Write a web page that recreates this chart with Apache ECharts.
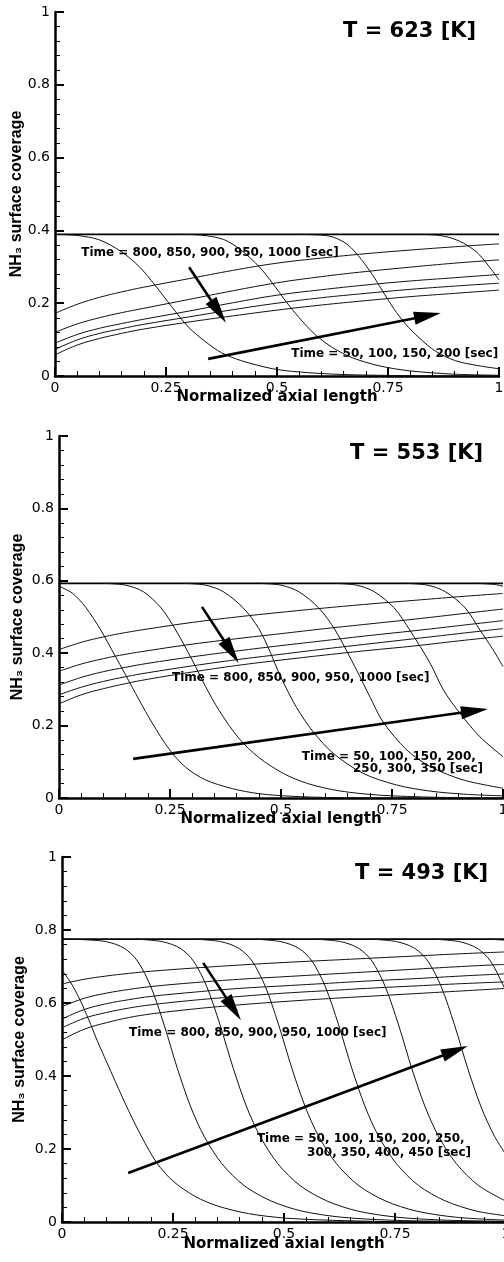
<!DOCTYPE html>
<html>
<head>
<meta charset="utf-8">
<script src="https://cdn.jsdelivr.net/npm/echarts/dist/echarts.min.js"></script>
<style>
  html, body { margin: 0; padding: 0; background: #fff; }
  #main { width: 504px; height: 1262px; }
</style>
</head>
<body>
<div id="main"></div>
<script type="text/javascript">
  // ---- data ----
  var xTicks = [0, 0.25, 0.5, 0.75, 1];
  var xDes = [0, 0.05, 0.1, 0.15, 0.2, 0.3, 0.4, 0.5, 0.6, 0.7, 0.8, 0.9, 1];
  var xSat = [0, 1];

  // T = 623 K
  var sat623 = [0.389, 0.389];
  var d623_800 = [0.172, 0.197, 0.216, 0.231, 0.244, 0.267, 0.29, 0.31, 0.324, 0.336, 0.346, 0.355, 0.363];
  var d623_850 = [0.12, 0.143, 0.16, 0.174, 0.186, 0.21, 0.234, 0.256, 0.273, 0.287, 0.299, 0.31, 0.319];
  var d623_900 = [0.09, 0.114, 0.131, 0.144, 0.156, 0.178, 0.201, 0.222, 0.237, 0.25, 0.261, 0.27, 0.279];
  var d623_950 = [0.073, 0.099, 0.117, 0.13, 0.142, 0.162, 0.182, 0.2, 0.215, 0.227, 0.238, 0.247, 0.255];
  var d623_1000 = [0.058, 0.085, 0.103, 0.117, 0.129, 0.148, 0.165, 0.181, 0.195, 0.207, 0.218, 0.227, 0.236];
  var a623_50 = [[0, 0.389], [0.05, 0.386], [0.1, 0.374], [0.15, 0.341], [0.19, 0.3], [0.225, 0.25], [0.263, 0.19], [0.3, 0.135], [0.338, 0.095], [0.375, 0.064], [0.42, 0.042], [0.49, 0.02], [0.55, 0.011], [0.65, 0.004], [0.8, 0.001], [1, 0]];
  var a623_100 = [[0.28, 0.389], [0.33, 0.387], [0.38, 0.375], [0.42, 0.345], [0.46, 0.3], [0.49, 0.255], [0.52, 0.205], [0.55, 0.16], [0.585, 0.115], [0.625, 0.078], [0.67, 0.05], [0.73, 0.028], [0.8, 0.014], [0.9, 0.005], [1, 0.002]];
  var a623_150 = [[0.55, 0.389], [0.6, 0.387], [0.628, 0.381], [0.66, 0.36], [0.69, 0.32], [0.715, 0.278], [0.737, 0.235], [0.763, 0.185], [0.79, 0.142], [0.82, 0.105], [0.857, 0.068], [0.902, 0.042], [0.955, 0.028], [1, 0.02]];
  var a623_200 = [[0.82, 0.389], [0.86, 0.387], [0.89, 0.38], [0.92, 0.365], [0.95, 0.34], [0.975, 0.305], [1, 0.264]];

  // T = 553 K
  var sat553 = [0.593, 0.593];
  var d553_800 = [0.41, 0.43, 0.445, 0.457, 0.467, 0.485, 0.5, 0.513, 0.525, 0.536, 0.546, 0.556, 0.565];
  var d553_850 = [0.35, 0.37, 0.385, 0.397, 0.407, 0.425, 0.44, 0.454, 0.468, 0.481, 0.494, 0.508, 0.522];
  var d553_900 = [0.312, 0.333, 0.349, 0.361, 0.372, 0.39, 0.406, 0.421, 0.435, 0.449, 0.462, 0.476, 0.49];
  var d553_950 = [0.285, 0.306, 0.322, 0.335, 0.346, 0.365, 0.382, 0.397, 0.412, 0.426, 0.44, 0.454, 0.468];
  var d553_1000 = [0.26, 0.285, 0.302, 0.316, 0.328, 0.348, 0.366, 0.381, 0.395, 0.408, 0.42, 0.434, 0.447];
  var a553_50 = [[0, 0.585], [0.03, 0.566], [0.06, 0.527], [0.094, 0.464], [0.124, 0.398], [0.15, 0.34], [0.18, 0.272], [0.21, 0.207], [0.248, 0.135], [0.285, 0.085], [0.33, 0.05], [0.39, 0.026], [0.45, 0.012], [0.52, 0.005], [0.62, 0.001], [0.8, 0]];
  var a553_100 = [[0.1, 0.593], [0.15, 0.588], [0.19, 0.57], [0.23, 0.525], [0.263, 0.464], [0.3, 0.381], [0.33, 0.308], [0.36, 0.243], [0.405, 0.165], [0.45, 0.112], [0.505, 0.068], [0.56, 0.04], [0.63, 0.02], [0.72, 0.008], [0.85, 0.002], [1, 0]];
  var a553_150 = [[0.28, 0.593], [0.33, 0.588], [0.37, 0.57], [0.415, 0.525], [0.45, 0.468], [0.475, 0.405], [0.498, 0.338], [0.535, 0.25], [0.573, 0.182], [0.618, 0.123], [0.685, 0.068], [0.76, 0.036], [0.836, 0.019], [0.92, 0.01], [1, 0.006]];
  var a553_200 = [[0.45, 0.593], [0.5, 0.588], [0.54, 0.57], [0.585, 0.525], [0.622, 0.464], [0.67, 0.354], [0.7, 0.28], [0.73, 0.21], [0.783, 0.133], [0.836, 0.087], [0.91, 0.05], [1, 0.027]];
  var a553_250 = [[0.62, 0.593], [0.67, 0.588], [0.71, 0.57], [0.755, 0.525], [0.79, 0.464], [0.836, 0.372], [0.866, 0.298], [0.903, 0.234], [0.948, 0.169], [1, 0.114]];
  var a553_300 = [[0.78, 0.593], [0.83, 0.588], [0.87, 0.57], [0.915, 0.525], [0.948, 0.464], [0.978, 0.409], [1, 0.363]];
  var a553_350 = [[0.94, 0.593], [0.98, 0.59], [1, 0.585]];

  // T = 493 K
  var sat493 = [0.775, 0.775];
  var d493_800 = [0.652, 0.665, 0.674, 0.681, 0.687, 0.696, 0.704, 0.711, 0.717, 0.723, 0.729, 0.735, 0.74];
  var d493_850 = [0.59, 0.613, 0.627, 0.637, 0.645, 0.656, 0.665, 0.672, 0.679, 0.686, 0.693, 0.7, 0.706];
  var d493_900 = [0.556, 0.582, 0.598, 0.609, 0.618, 0.63, 0.64, 0.647, 0.654, 0.661, 0.667, 0.674, 0.68];
  var d493_950 = [0.532, 0.558, 0.574, 0.586, 0.595, 0.608, 0.618, 0.627, 0.634, 0.641, 0.647, 0.653, 0.658];
  var d493_1000 = [0.499, 0.528, 0.546, 0.56, 0.57, 0.584, 0.595, 0.604, 0.612, 0.619, 0.626, 0.633, 0.64];
  var a493_50 = [[0, 0.69], [0.02, 0.655], [0.04, 0.61], [0.06, 0.555], [0.08, 0.495], [0.1, 0.44], [0.12, 0.385], [0.15, 0.305], [0.18, 0.232], [0.213, 0.163], [0.25, 0.112], [0.3, 0.07], [0.35, 0.044], [0.42, 0.023], [0.5, 0.011], [0.6, 0.005], [0.75, 0.001], [1, 0]];
  var a493_100 = [[0, 0.775], [0.04, 0.774], [0.1, 0.768], [0.14, 0.75], [0.17, 0.715], [0.2, 0.645], [0.23, 0.54], [0.26, 0.42], [0.29, 0.315], [0.32, 0.235], [0.36, 0.16], [0.41, 0.1], [0.47, 0.058], [0.54, 0.03], [0.63, 0.013], [0.74, 0.005], [0.86, 0.002], [1, 0.001]];
  var a493_150 = [[0.166, 0.775], [0.226, 0.768], [0.266, 0.75], [0.296, 0.715], [0.326, 0.645], [0.356, 0.54], [0.386, 0.42], [0.416, 0.315], [0.446, 0.235], [0.486, 0.16], [0.536, 0.1], [0.596, 0.058], [0.666, 0.03], [0.756, 0.013], [0.866, 0.005], [1, 0.002]];
  var a493_200 = [[0.298, 0.775], [0.358, 0.768], [0.398, 0.75], [0.428, 0.715], [0.458, 0.645], [0.488, 0.54], [0.518, 0.42], [0.548, 0.315], [0.578, 0.235], [0.618, 0.16], [0.668, 0.1], [0.728, 0.058], [0.798, 0.03], [0.888, 0.013], [1, 0.005]];
  var a493_250 = [[0.433, 0.775], [0.493, 0.768], [0.533, 0.75], [0.563, 0.715], [0.593, 0.645], [0.623, 0.54], [0.653, 0.42], [0.683, 0.315], [0.713, 0.235], [0.753, 0.16], [0.803, 0.1], [0.863, 0.058], [0.933, 0.03], [1, 0.017]];
  var a493_300 = [[0.568, 0.775], [0.628, 0.768], [0.668, 0.75], [0.698, 0.715], [0.728, 0.645], [0.758, 0.54], [0.788, 0.42], [0.818, 0.315], [0.848, 0.235], [0.888, 0.16], [0.938, 0.1], [1, 0.057]];
  var a493_350 = [[0.694, 0.775], [0.754, 0.768], [0.794, 0.75], [0.824, 0.715], [0.854, 0.645], [0.884, 0.54], [0.914, 0.42], [0.944, 0.315], [0.974, 0.235], [1, 0.185]];
  var a493_400 = [[0.835, 0.775], [0.895, 0.768], [0.935, 0.75], [0.965, 0.715], [0.995, 0.645], [1, 0.63]];
  var a493_450 = [[0.96, 0.775], [1, 0.772]];

  var titles = ['T = 623 [K]', 'T = 553 [K]', 'T = 493 [K]'];
  var desLabel = 'Time = 800, 850, 900, 950, 1000 [sec]';
  var adsLabels = [
    ['Time = 50, 100, 150, 200 [sec]'],
    ['Time = 50, 100, 150, 200,', '250, 300, 350 [sec]'],
    ['Time = 50, 100, 150, 200, 250,', '300, 350, 400, 450 [sec]']
  ];

  // ---- layout ----
  var FONT = 'DejaVu Sans';
  var grids = [
    { left: 55, top: 12, width: 444, height: 364 },
    { left: 59, top: 436, width: 444, height: 362 },
    { left: 62, top: 857, width: 444, height: 365 }
  ];
  var xNameGap = [14, 14, 15];
  var yNameGap = [30, 33, 34];

  var panels = [
    { sat: sat623, des: [d623_800, d623_850, d623_900, d623_950, d623_1000],
      ads: [a623_50, a623_100, a623_150, a623_200] },
    { sat: sat553, des: [d553_800, d553_850, d553_900, d553_950, d553_1000],
      ads: [a553_50, a553_100, a553_150, a553_200, a553_250, a553_300, a553_350] },
    { sat: sat493, des: [d493_800, d493_850, d493_900, d493_950, d493_1000],
      ads: [a493_50, a493_100, a493_150, a493_200, a493_250, a493_300, a493_350, a493_400, a493_450] }
  ];

  // annotation anchors (titles in px, the rest in data units [x, y])
  var titlePos = [[343, 32], [350, 454], [355, 874]];
  var desTextAt = [[0.059, 0.338], [0.2545, 0.331], [0.151, 0.518]];
  var adsTextAt = [
    [[0.532, 0.06]],
    [[0.547, 0.113], [0.662, 0.08]],
    [[0.439, 0.227], [0.552, 0.189]]
  ];
  var arrows = [
    [[[0.302, 0.299], [0.385, 0.146]], [[0.345, 0.047], [0.869, 0.173]]],
    [[[0.322, 0.528], [0.405, 0.373]], [[0.167, 0.108], [0.966, 0.246]]],
    [[[0.318, 0.710], [0.403, 0.553]], [[0.149, 0.134], [0.914, 0.482]]]
  ];

  function zip(xs, ys) {
    var out = [];
    for (var i = 0; i < xs.length; i++) out.push([xs[i], ys[i]]);
    return out;
  }

  var xAxes = [], yAxes = [], series = [];
  for (var i = 0; i < 3; i++) {
    var g = grids[i];
    g.outerBoundsMode = 'none';
    g.containLabel = false;
    xAxes.push({
      gridIndex: i, type: 'value', min: 0, max: 1, interval: 0.25,
      name: 'Normalized axial length', nameLocation: 'middle', nameGap: xNameGap[i],
      nameMoveOverlap: false,
      nameTextStyle: { fontFamily: FONT, fontWeight: 'bold', fontSize: 15, color: '#000' },
      axisLine: { onZero: false, lineStyle: { color: '#000', width: 2.5 } },
      axisTick: { inside: true, length: 9, lineStyle: { color: '#000', width: 2 } },
      minorTick: { show: true, splitNumber: 5, length: 5, lineStyle: { color: '#000', width: 1 } },
      axisLabel: { fontFamily: FONT, fontSize: 14, color: '#000', margin: 5 },
      splitLine: { show: false }
    });
    yAxes.push({
      gridIndex: i, type: 'value', min: 0, max: 1, interval: 0.2,
      name: 'NH\u2083 surface coverage', nameLocation: 'middle', nameRotate: 90, nameGap: yNameGap[i],
      nameMoveOverlap: false,
      nameTextStyle: { fontFamily: 'Liberation Sans', fontWeight: 'bold', fontSize: 16, color: '#000' },
      axisLine: { onZero: false, lineStyle: { color: '#000', width: 2.5 } },
      axisTick: { inside: true, length: 9, lineStyle: { color: '#000', width: 2 } },
      minorTick: { show: true, splitNumber: 5, length: 5, lineStyle: { color: '#000', width: 1 } },
      axisLabel: { fontFamily: FONT, fontSize: 14, color: '#000', margin: 5 },
      splitLine: { show: false }
    });

    var p = panels[i];
    series.push({
      type: 'line', xAxisIndex: i, yAxisIndex: i, data: zip(xSat, p.sat),
      showSymbol: false, lineStyle: { color: '#000', width: 1.6 }, z: 3
    });
    p.des.forEach(function (ys) {
      series.push({
        type: 'line', xAxisIndex: i, yAxisIndex: i, data: zip(xDes, ys),
        showSymbol: false, smooth: 0.4, lineStyle: { color: '#111', width: 1 }
      });
    });
    p.ads.forEach(function (pts) {
      series.push({
        type: 'line', xAxisIndex: i, yAxisIndex: i, data: pts,
        showSymbol: false, smooth: 0.3, lineStyle: { color: '#111', width: 1 }
      });
    });
  }

  var chart = echarts.init(document.getElementById('main'));
  chart.setOption({
    animation: false,
    backgroundColor: '#fff',
    grid: grids,
    xAxis: xAxes,
    yAxis: yAxes,
    series: series
  });

  // ---- annotations (text + arrows) placed through the axes ----
  var graphics = [];
  function px(i, pt) {
    return chart.convertToPixel({ xAxisIndex: i, yAxisIndex: i }, pt);
  }
  function text(x, y, str, size) {
    graphics.push({
      type: 'text', x: x, y: y, z: 100,
      style: { text: str, fill: '#000', fontFamily: FONT, fontWeight: 'bold', fontSize: size,
               align: 'left', verticalAlign: 'middle' }
    });
  }
  function arrow(i, a, b) {
    var p0 = px(i, a), p1 = px(i, b);
    var dx = p1[0] - p0[0], dy = p1[1] - p0[1];
    var len = Math.sqrt(dx * dx + dy * dy);
    var ux = dx / len, uy = dy / len, nx = -uy, ny = ux;
    var L = 27, H = 6.5;
    var bx = p1[0] - ux * L, by = p1[1] - uy * L;
    graphics.push({
      type: 'line', z: 100,
      shape: { x1: p0[0], y1: p0[1], x2: bx + ux * 3, y2: by + uy * 3 },
      style: { stroke: '#000', lineWidth: 2.6 }
    });
    graphics.push({
      type: 'polygon', z: 100,
      shape: { points: [[p1[0], p1[1]], [bx + nx * H, by + ny * H], [bx - nx * H, by - ny * H]] },
      style: { fill: '#000' }
    });
  }

  for (var k = 0; k < 3; k++) {
    text(titlePos[k][0], titlePos[k][1], titles[k], 21);
    var d = px(k, desTextAt[k]);
    text(d[0], d[1], desLabel, 12);
    for (var m = 0; m < adsLabels[k].length; m++) {
      var q = px(k, adsTextAt[k][m]);
      text(q[0], q[1], adsLabels[k][m], 12);
    }
    arrow(k, arrows[k][0][0], arrows[k][0][1]);
    arrow(k, arrows[k][1][0], arrows[k][1][1]);
  }
  chart.setOption({ graphic: graphics });
</script>
</body>
</html>
